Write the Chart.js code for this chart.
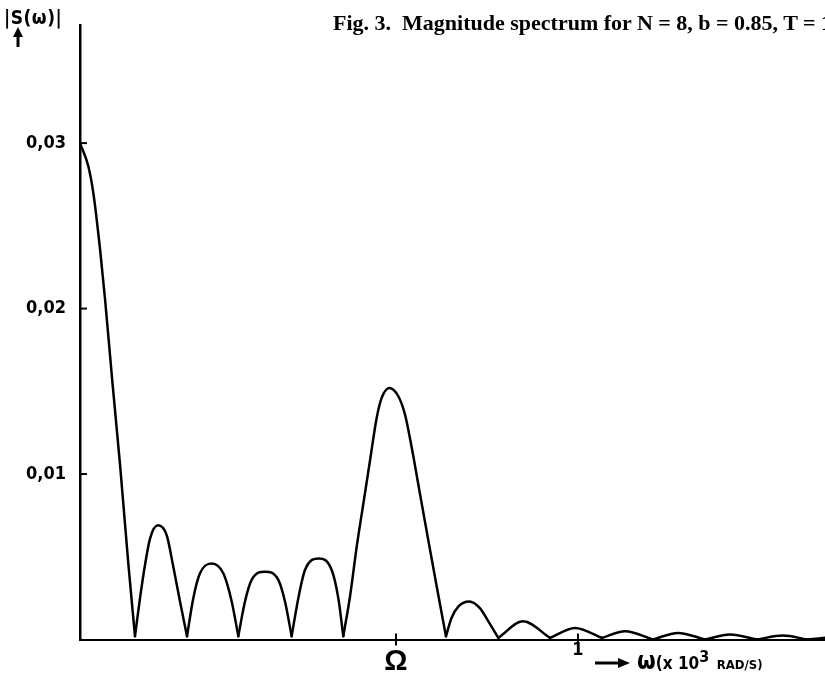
<!DOCTYPE html>
<html lang="en">
<head>
<meta charset="UTF-8">
<title>Fig. 3 Magnitude spectrum</title>
<script src="https://cdn.jsdelivr.net/npm/chart.js"></script>
<style>
html,body{margin:0;padding:0;background:#fff;overflow:hidden;}
#wrap{position:relative;width:825px;height:682px;overflow:hidden;}
#chart{position:absolute;left:0;top:0;}
.lbl{position:absolute;white-space:nowrap;color:#000;}
#title{left:333px;top:10px;font:bold 22px 'Liberation Serif',serif;}
#ylab{left:4px;top:6px;font:bold 19px 'DejaVu Sans Condensed',sans-serif;letter-spacing:0.5px;}
#xlab{left:637px;top:647px;font:bold 24px 'DejaVu Sans Condensed',sans-serif;}
#xlab .sm{font-size:17px;}
#xlab sup{font-size:16px;vertical-align:7px;}
#xlab .cap{font-size:13px;}
</style>
</head>
<body>
<div id="wrap">
<canvas id="chart" width="825" height="682"></canvas>
<div id="title" class="lbl">Fig. 3.&nbsp; Magnitude spectrum for N = 8, b = 0.85, T = 10 ms</div>
<div id="ylab" class="lbl">|S(ω)|</div>
<div id="xlab" class="lbl">ω<span class="sm">(x 10</span><sup>3</sup> <span class="cap">RAD/S)</span></div>
</div>

<script>
// omega in 10^3 rad/s, |S(omega)|
const lobe0 = [[0,0.0300],[0.0167,0.0286],[0.0267,0.0270],[0.0402,0.0236],[0.0502,0.0206],[0.0649,0.0156],[0.0803,0.0106],[0.0970,0.0046],[0.1104,0.0002]];
const lobe1 = [[0.1104,0.0002],[0.1205,0.0025],[0.1305,0.0045],[0.1406,0.0061],[0.1566,0.0069],[0.1741,0.0063],[0.1867,0.0045],[0.2008,0.0023],[0.2149,0.0002]];
const lobe2 = [[0.2149,0.0002],[0.2275,0.0025],[0.2410,0.0040],[0.2645,0.0046],[0.2878,0.0040],[0.3046,0.0023],[0.3179,0.0002]];
const lobe3 = [[0.3179,0.0002],[0.3313,0.0023],[0.3447,0.0036],[0.3715,0.0041],[0.3982,0.0036],[0.4116,0.0023],[0.4250,0.0002]];
const lobe4 = [[0.4250,0.0002],[0.4384,0.0025],[0.4518,0.0042],[0.4799,0.0049],[0.5054,0.0042],[0.5187,0.0025],[0.5287,0.0002]];
const lobe5 = [[0.5287,0.0002],[0.5422,0.0026],[0.5556,0.0056],[0.5689,0.0082],[0.5823,0.0108],[0.5958,0.0134],[0.6058,0.0146],[0.6211,0.0152],[0.6392,0.0147],[0.6526,0.0136],[0.6661,0.0116],[0.6827,0.0088],[0.6994,0.0060],[0.7163,0.0032],[0.7349,0.0002]];
const lobe6 = [[0.7349,0.0002],[0.7460,0.0013],[0.7600,0.0020],[0.7817,0.0023],[0.8030,0.0019],[0.8200,0.0011],[0.8400,0.0001]];
const lobe7 = [[0.8400,0.0001],[0.8896,0.0011],[0.9438,0.0001]];
const lobe8 = [[0.9438,0.0001],[0.9940,0.0007],[1.0482,0.0001]];
const lobe9 = [[1.0482,0.0001],[1.0944,0.0005],[1.1506,0]];
const lobe10 = [[1.1506,0],[1.2008,0.0004],[1.2550,0]];
const lobe11 = [[1.2550,0],[1.3052,0.0003],[1.3594,0]];
const lobe12 = [[1.3594,0],[1.4116,0.00024],[1.4598,0]];
const lobe13 = [[1.4598,0],[1.4960,0.0001]];

const OMEGA = 0.6345;
const xTicks = [OMEGA, 1];
const xTickLabels = ['Ω', '1'];
const yTicks = [0.01, 0.02, 0.03];
const yTickLabels = ['0,01', '0,02', '0,03'];
const X_MAX = 1.496;
const Y_MAX = 0.03715;

const lobes = [lobe0,lobe1,lobe2,lobe3,lobe4,lobe5,lobe6,lobe7,lobe8,lobe9,lobe10,lobe11,lobe12,lobe13];
const narrow = "'DejaVu Sans Condensed',sans-serif";

// inward tick marks on the axes plus the two little arrows
const axisMarks = {
    id:'axisMarks',
    afterDraw(chart){
        const c = chart.ctx, xs = chart.scales.x, ys = chart.scales.y;
        const a = chart.chartArea;
        c.save();
        c.strokeStyle = '#000';
        c.fillStyle = '#000';
        c.lineWidth = 2;
        yTicks.forEach(v=>{
            const py = ys.getPixelForValue(v);
            c.beginPath(); c.moveTo(a.left, py); c.lineTo(a.left+7, py); c.stroke();
        });
        xTicks.forEach(v=>{
            const px = xs.getPixelForValue(v);
            c.beginPath(); c.moveTo(px, a.bottom-6); c.lineTo(px, a.bottom+6); c.stroke();
        });
        // up arrow under |S(w)|
        c.lineWidth = 3;
        c.beginPath(); c.moveTo(18, 47); c.lineTo(18, 34); c.stroke();
        c.beginPath(); c.moveTo(18, 27); c.lineTo(13, 37); c.lineTo(23, 37); c.closePath(); c.fill();
        // right arrow before the x label
        c.beginPath(); c.moveTo(595, 663); c.lineTo(620, 663); c.stroke();
        c.beginPath(); c.moveTo(630, 663); c.lineTo(618, 658); c.lineTo(618, 668); c.closePath(); c.fill();
        c.restore();
    }
};

const ctx = document.getElementById('chart').getContext('2d');

const chart = new Chart(ctx,{
    type:'line',
    data:{
        datasets: lobes.map(l=>({
            data: l.map(p=>({x:p[0], y:p[1]})),
            borderColor:'#000',
            borderWidth:2.5,
            pointRadius:0,
            fill:false,
            borderCapStyle:'round',
            borderJoinStyle:'round',
            cubicInterpolationMode:'monotone'
        }))
    },
    options:{
        responsive:false,
        animation:false,
        devicePixelRatio:1,
        layout:{padding:{top:21,right:0,left:0,bottom:0}},
        plugins:{legend:{display:false}, tooltip:{enabled:false}},
        scales:{
            x:{
                type:'linear', min:0, max:X_MAX,
                afterFit(s){ s.height = 42.5; },
                afterBuildTicks(s){ s.ticks = xTicks.map(v=>({value:v})); },
                ticks:{
                    color:'#000', padding:3, maxRotation:0, autoSkip:false,
                    callback:(v,i)=>xTickLabels[i],
                    font:(c)=> c.tick && c.tick.value === OMEGA
                        ? {family:"'Liberation Sans',sans-serif", size:29, weight:'bold', lineHeight:'39px'}
                        : {family:narrow, size:18, weight:'bold', lineHeight:'15px'}
                },
                grid:{display:false, drawTicks:false},
                border:{display:true, color:'#000', width:2}
            },
            y:{
                min:0, max:Y_MAX,
                afterFit(s){ s.width = 80; },
                afterBuildTicks(s){ s.ticks = yTicks.map(v=>({value:v})); },
                ticks:{
                    color:'#000', padding:14,
                    callback:(v,i)=>yTickLabels[i],
                    font:{family:narrow, size:18, weight:'bold'}
                },
                grid:{display:false, drawTicks:false},
                border:{display:true, color:'#000', width:2.5}
            }
        }
    },
    plugins:[axisMarks]
});
</script>
</body>
</html>
